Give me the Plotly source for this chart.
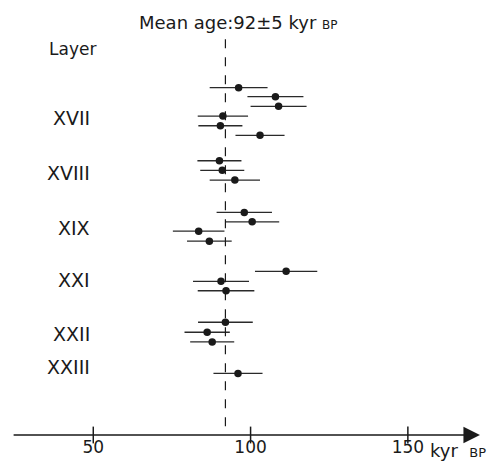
import plotly.graph_objects as go

# ages (kyr BP) and 1-sigma errors
ages = [96.2, 107.9, 108.9, 91.2, 90.4, 103.0,
        90.1, 91.0, 95.0,
        98.0, 100.5, 83.5, 86.9,
        111.3, 90.6, 92.2,
        92.0, 86.2, 87.8,
        96.0]
errs = [9.2, 8.9, 8.9, 8.0, 7.0, 7.8,
        7.0, 7.0, 8.0,
        8.8, 8.6, 8.2, 7.1,
        9.9, 8.9, 9.0,
        8.7, 7.2, 7.0,
        7.8]
# vertical row positions of each sample
rows = [0, 0.93, 1.92, 2.92, 3.92, 4.91,
        7.53, 8.52, 9.52,
        12.86, 13.83, 14.79, 15.82,
        18.93, 19.96, 20.93,
        24.18, 25.21, 26.21,
        29.45]

layers = ["XVII", "XVIII", "XIX", "XXI", "XXII", "XXIII"]
layer_rows = [3.15, 8.82, 14.5, 19.8, 25.4, 28.76]

mean_age = 92
tick_vals = [50, 100, 150]

x_range = [20.35, 178.33]
y_range = [35.8, -9.04]
axis_start, axis_end = 24.2, 172.9

FONT = "DejaVu Sans"
INK = "#1a1a1a"

fig = go.Figure()

fig.add_trace(go.Scatter(
    x=ages, y=rows, mode="markers",
    marker=dict(size=7.5, color=INK),
    error_x=dict(type="data", array=errs, visible=True, width=0,
                 thickness=1.3, color="#2a2a2a"),
    showlegend=False, hoverinfo="skip",
))

# tick marks crossing the axis line
fig.add_trace(go.Scatter(
    x=tick_vals, y=[y_range[0]] * len(tick_vals), mode="markers",
    marker=dict(symbol="line-ns-open", size=12, color=INK,
                line=dict(width=1.5, color=INK)),
    cliponaxis=False, showlegend=False, hoverinfo="skip",
))

# dashed mean line
fig.add_shape(type="line", x0=mean_age, x1=mean_age, y0=-5.0, y1=y_range[0],
              xref="x", yref="y", line=dict(color=INK, width=1.2, dash="dash"))

# axis line with arrow
fig.add_annotation(x=axis_end, y=y_range[0], ax=axis_start, ay=y_range[0],
                   xref="x", yref="y", axref="x", ayref="y",
                   text="", showarrow=True, arrowhead=2, arrowsize=2.2,
                   arrowwidth=1.5, arrowcolor=INK, standoff=0, startstandoff=0)

for lab, r in zip(layers, layer_rows):
    fig.add_annotation(x=92 / 497, xref="paper", y=r, yref="y", text=lab,
                       showarrow=False, xanchor="right", yanchor="middle",
                       font=dict(family=FONT, size=19, color=INK))

fig.add_annotation(x=47 / 497, xref="paper", y=-4.0, yref="y", text="Layer",
                   showarrow=False, xanchor="left", yanchor="middle",
                   font=dict(family=FONT, size=17, color=INK))

fig.add_annotation(x=238 / 497, xref="paper", y=1 - 23 / 435, yref="paper",
                   text="Mean age:92±5 kyr <span style='font-size:12px'>BP</span>",
                   showarrow=False, xanchor="center", yanchor="middle",
                   font=dict(family=FONT, size=18, color=INK))

fig.add_annotation(x=428 / 497, xref="paper", y=-15 / 435, yref="paper",
                   text="kyr  <span style='font-size:13px'>BP</span>",
                   showarrow=False, xanchor="left", yanchor="middle",
                   font=dict(family=FONT, size=18, color=INK))

fig.update_layout(
    width=497, height=470,
    margin=dict(l=0, r=0, t=0, b=35),
    paper_bgcolor="white", plot_bgcolor="white",
    xaxis=dict(range=x_range, tickvals=tick_vals, ticks="",
               showgrid=False, zeroline=False, showline=False,
               tickfont=dict(family=FONT, size=17, color=INK)),
    yaxis=dict(range=y_range, visible=False, showgrid=False, zeroline=False),
)

fig.write_html("out.html", config={"displayModeBar": False},
               post_script="document.body.style.margin='0';document.body.style.overflow='hidden';")
